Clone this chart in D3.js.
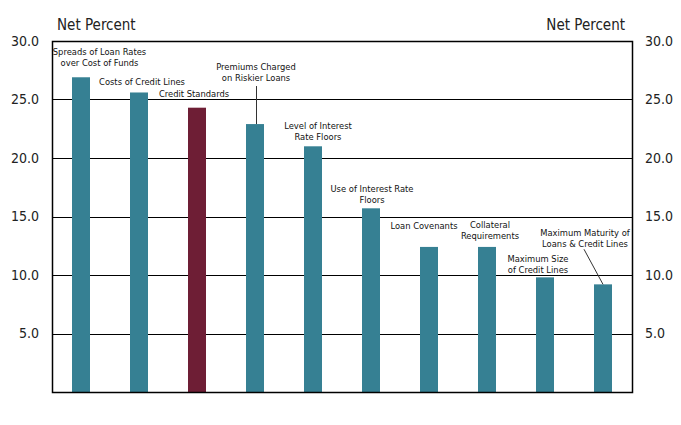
<!DOCTYPE html>
<html>
<head>
<meta charset="utf-8">
<script src="https://cdn.jsdelivr.net/npm/d3@7"></script>
<style>
  html, body { margin: 0; padding: 0; background: #fff; }
  svg { display: block; font-family: "DejaVu Sans Condensed", "DejaVu Sans", sans-serif; }
</style>
</head>
<body>
<svg id="chart" width="681" height="425"></svg>
<script>
// Data
const categories = [
  "Spreads of Loan Rates over Cost of Funds",
  "Costs of Credit Lines",
  "Credit Standards",
  "Premiums Charged on Riskier Loans",
  "Level of Interest Rate Floors",
  "Use of Interest Rate Floors",
  "Loan Covenants",
  "Collateral Requirements",
  "Maximum Size of Credit Lines",
  "Maximum Maturity of Loans & Credit Lines"
];
const values = [26.9, 25.6, 24.3, 22.9, 21.0, 15.7, 12.4, 12.4, 9.8, 9.2];
const labelLines = [
  ["Spreads of Loan Rates", "over Cost of Funds"],
  ["Costs of Credit Lines"],
  ["Credit Standards"],
  ["Premiums Charged", "on Riskier Loans"],
  ["Level of Interest", "Rate Floors"],
  ["Use of Interest Rate", "Floors"],
  ["Loan Covenants"],
  ["Collateral", "Requirements"],
  ["Maximum Size", "of Credit Lines"],
  ["Maximum Maturity of", "Loans & Credit Lines"]
];
const highlighted = ["Credit Standards"];
const tickValues = [5, 10, 15, 20, 25, 30];
const axisTitle = "Net Percent";

// Label anchor: horizontal offset (px) from band centre, first-line baseline in data units
const labelDx = [18.5, 3, -3, 1, 5, 1, -5, 3, -7, -18];
const labelY = [28.8, 26.24, 25.21, 27.52, 22.48, 17.09, 13.93, 14.02, 11.11, 13.33];

const svg = d3.select("#chart");
const margin = {left: 52, right: 49, top: 41, bottom: 33};
const W = 681, H = 425;
const x0 = margin.left, x1 = W - margin.right;
const y0 = H - margin.bottom, y1 = margin.top;

const x = d3.scaleBand().domain(categories).range([x0, x1]).paddingInner(0).paddingOuter(0);
const y = d3.scaleLinear().domain([0, 30]).range([y0, y1]);
const barW = 18;

// gridlines
svg.append("g").selectAll("line").data(tickValues).join("line")
  .attr("x1", x0).attr("x2", x1)
  .attr("y1", d => Math.round(y(d)) + 0.5).attr("y2", d => Math.round(y(d)) + 0.5)
  .attr("stroke", "#000").attr("stroke-width", 1);

// bars
svg.append("g").selectAll("rect").data(categories).join("rect")
  .attr("x", d => x(d) + x.bandwidth() / 2 - barW / 2)
  .attr("width", barW)
  .attr("y", (d, i) => y(values[i]))
  .attr("height", (d, i) => y(0) - y(values[i]))
  .attr("fill", d => highlighted.includes(d) ? "#6E1E35" : "#368093");

// frame
svg.append("rect")
  .attr("x", x0 + 0.5).attr("y", Math.round(y1) + 0.5)
  .attr("width", x1 - x0).attr("height", y0 - y1)
  .attr("fill", "none").attr("stroke", "#000").attr("stroke-width", 1.5);

// axes (labels only)
const leftAxis = d3.axisLeft(y).tickValues(tickValues).tickFormat(d3.format(".1f")).tickSize(0).tickPadding(13);
const rightAxis = d3.axisRight(y).tickValues(tickValues).tickFormat(d3.format(".1f")).tickSize(0).tickPadding(13);
const gl = svg.append("g").attr("transform", `translate(${x0},0)`).call(leftAxis);
const gr = svg.append("g").attr("transform", `translate(${x1},0)`).call(rightAxis);
[gl, gr].forEach(g => {
  g.select(".domain").remove();
  g.selectAll("text").attr("font-size", 14).attr("fill", "#222")
    .attr("font-family", "'DejaVu Sans Condensed', 'DejaVu Sans', sans-serif");
});

// axis titles
svg.append("text").attr("x", 57).attr("y", 30).attr("font-size", 15).attr("fill", "#222").text(axisTitle);
svg.append("text").attr("x", 625).attr("y", 30).attr("text-anchor", "end").attr("font-size", 15).attr("fill", "#222").text(axisTitle);

// bar labels
const lg = svg.append("g");
categories.forEach((c, i) => {
  const cx = x(c) + x.bandwidth() / 2 + labelDx[i];
  const t = lg.append("text").attr("text-anchor", "middle").attr("font-size", 9.3).attr("fill", "#111");
  labelLines[i].forEach((ln, j) => {
    t.append("tspan").attr("x", cx).attr("y", y(labelY[i]) + j * 11).text(ln);
  });
});

// leader lines
const xc = c => x(c) + x.bandwidth() / 2;
svg.append("line")
  .attr("x1", xc(categories[3]) + 1.5).attr("x2", xc(categories[3]) + 1.5)
  .attr("y1", y(26.15)).attr("y2", y(values[3]))
  .attr("stroke", "#333").attr("stroke-width", 1);
svg.append("line")
  .attr("x1", xc(categories[9]) - 19).attr("y1", y(12.2))
  .attr("x2", xc(categories[9])).attr("y2", y(values[9]))
  .attr("stroke", "#333").attr("stroke-width", 1);
</script>
</body>
</html>
